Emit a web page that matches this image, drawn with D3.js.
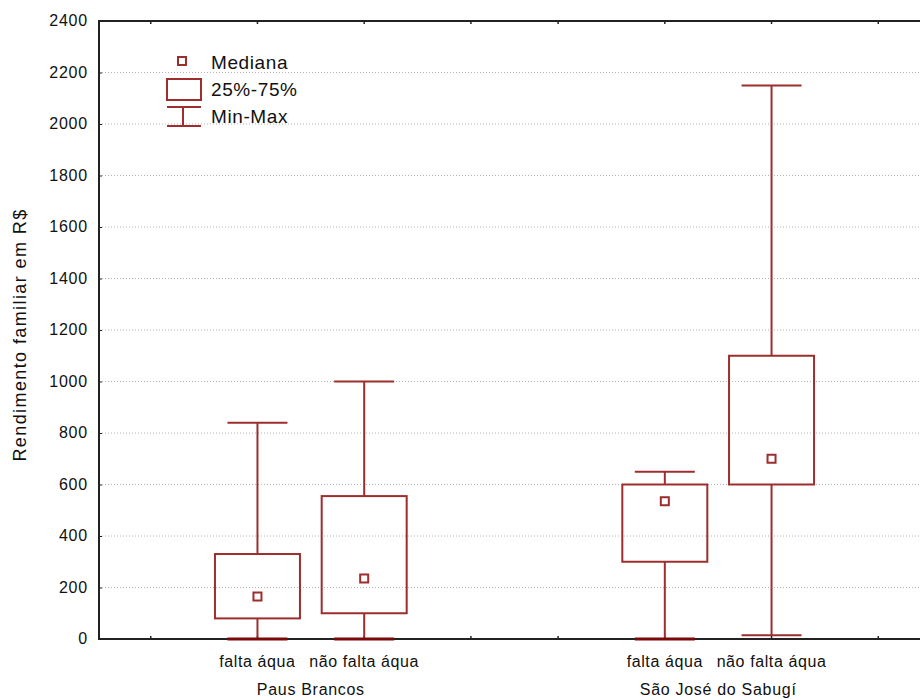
<!DOCTYPE html>
<html lang="pt">
  <head>
    <meta charset="utf-8">
    <title>Rendimento familiar</title>
    <script src="https://cdnjs.cloudflare.com/ajax/libs/d3/7.8.5/d3.min.js"></script>
    <style type="text/css">
      body {
        margin: 0;
        background: #fff;
      }
      svg text {
        font-family: 'Liberation Sans', Arial, sans-serif;
        fill: #111;
      }
      .grid line {
        stroke: #b4b4b4;
        stroke-width: 1;
        stroke-dasharray: 1,2;
      }
      .box {
        fill: none;
        stroke: #9e2d2d;
        stroke-width: 2;
      }
    </style>
  </head>
  <body>
    <svg id="chart"></svg>
    <script type="text/javascript">
// data
var groups = ["Paus Brancos", "São José do Sabugí"];
var categories = ["falta áqua", "não falta áqua"];
var minVals = [0, 0, 0, 15];
var q1Vals = [80, 100, 300, 600];
var medianVals = [165, 235, 535, 700];
var q3Vals = [330, 555, 600, 1100];
var maxVals = [840, 1000, 650, 2150];
var yTicks = [0, 200, 400, 600, 800, 1000, 1200, 1400, 1600, 1800, 2000, 2200, 2400];

var w = 920;
var h = 699;
var padLeft = 99, padTop = 21, padBottom = 639, padRight = 930;
var boxW = 85, capW = 60, medW = 8;
var color = "#9e2d2d";

var rows = [];
groups.forEach(function(g, gi) {
  categories.forEach(function(c, ci) {
    var i = gi * categories.length + ci;
    rows.push({ group: g, cat: c, min: minVals[i], q1: q1Vals[i], med: medianVals[i], q3: q3Vals[i], max: maxVals[i] });
  });
});

var svg = d3.select("#chart").attr("width", w).attr("height", h);

var yScale = d3.scaleLinear().domain([0, 2400]).range([padBottom, padTop]);
var groupScale = d3.scalePoint().domain(groups).range([padLeft, padRight]).padding(0.52);
var step = groupScale.step() * 0.262;
var catScale = d3.scalePoint().domain(categories).range([-step / 2, step / 2]);
var xPos = function(d) { return groupScale(d.group) + catScale(d.cat); };

// gridlines
svg.append("g").attr("class", "grid")
  .selectAll("line").data(yTicks.slice(1, -1))
  .enter().append("line")
  .attr("x1", padLeft).attr("x2", w)
  .attr("y1", function(d) { return yScale(d); })
  .attr("y2", function(d) { return yScale(d); });

// y axis ticks (small, inward)
var yAxis = d3.axisRight(yScale).tickValues(yTicks).tickSize(3).tickFormat("");
svg.append("g").attr("transform", "translate(" + padLeft + ",0)").call(yAxis)
  .call(function(g) { g.select(".domain").remove(); })
  .selectAll("line").attr("stroke", "#222");

svg.selectAll(".ylab").data(yTicks).enter().append("text")
  .attr("class", "ylab")
  .attr("x", padLeft - 11)
  .attr("y", function(d) { return yScale(d) + 5; })
  .attr("text-anchor", "end")
  .style("font-size", "16px")
  .style("letter-spacing", "0.8px")
  .text(function(d) { return d; });

// x ticks at top and bottom
var xTicks = [];
groups.forEach(function(g) {
  [-1.5, -0.5, 0.5, 1.5].forEach(function(k) { xTicks.push(groupScale(g) + k * step); });
});
svg.selectAll(".xtb").data(xTicks).enter().append("line")
  .attr("x1", function(d) { return d; }).attr("x2", function(d) { return d; })
  .attr("y1", padBottom).attr("y2", padBottom - 3)
  .attr("stroke", "#222").attr("stroke-width", 1.5);
svg.selectAll(".xtt").data(xTicks).enter().append("line")
  .attr("x1", function(d) { return d; }).attr("x2", function(d) { return d; })
  .attr("y1", padTop).attr("y2", padTop + 3)
  .attr("stroke", "#222").attr("stroke-width", 1.5);

// frame
svg.append("path")
  .attr("d", "M" + w + "," + padTop + "H" + padLeft + "V" + padBottom + "H" + w)
  .attr("fill", "none").attr("stroke", "#222").attr("stroke-width", 2);

// boxes
var boxes = svg.selectAll(".bx").data(rows).enter().append("g");
boxes.append("line").attr("class", "box")
  .attr("x1", xPos).attr("x2", xPos)
  .attr("y1", function(d) { return yScale(d.max); })
  .attr("y2", function(d) { return yScale(d.q3); });
boxes.append("line").attr("class", "box")
  .attr("x1", xPos).attr("x2", xPos)
  .attr("y1", function(d) { return yScale(d.q1); })
  .attr("y2", function(d) { return yScale(d.min); });
boxes.append("line").attr("class", "box")
  .attr("x1", function(d) { return xPos(d) - capW / 2; })
  .attr("x2", function(d) { return xPos(d) + capW / 2; })
  .attr("y1", function(d) { return yScale(d.max); })
  .attr("y2", function(d) { return yScale(d.max); });
boxes.append("line").attr("class", "box")
  .attr("x1", function(d) { return xPos(d) - capW / 2; })
  .attr("x2", function(d) { return xPos(d) + capW / 2; })
  .attr("y1", function(d) { return yScale(d.min); })
  .attr("y2", function(d) { return yScale(d.min); })
  .style("stroke", function(d) { return d.min === 0 ? "#7a0a0a" : color; })
  .style("stroke-width", function(d) { return d.min === 0 ? 3 : 2; });
boxes.append("rect").attr("class", "box")
  .attr("x", function(d) { return xPos(d) - boxW / 2; })
  .attr("y", function(d) { return yScale(d.q3); })
  .attr("width", boxW)
  .attr("height", function(d) { return yScale(d.q1) - yScale(d.q3); });
boxes.append("rect").attr("class", "box")
  .attr("x", function(d) { return xPos(d) - medW / 2; })
  .attr("y", function(d) { return yScale(d.med) - medW / 2; })
  .attr("width", medW).attr("height", medW);

// category labels
svg.selectAll(".catlab").data(rows).enter().append("text")
  .attr("x", xPos)
  .attr("y", 667)
  .attr("text-anchor", "middle")
  .style("font-size", "16px")
  .style("letter-spacing", "0.6px")
  .text(function(d) { return d.cat; });

svg.selectAll(".grplab").data(groups).enter().append("text")
  .attr("x", function(d) { return groupScale(d); })
  .attr("y", 695)
  .attr("text-anchor", "middle")
  .style("font-size", "16px")
  .style("letter-spacing", "0.7px")
  .text(function(d) { return d; });

// y axis title
svg.append("text")
  .attr("transform", "translate(26," + ((padTop + padBottom) / 2 + 5) + ") rotate(-90)")
  .attr("text-anchor", "middle")
  .style("font-size", "18px")
  .style("letter-spacing", "1.4px")
  .text("Rendimento familiar em R$");

// legend
var lg = svg.append("g");
lg.append("rect").attr("class", "box").attr("x", 178).attr("y", 57).attr("width", medW).attr("height", medW);
lg.append("rect").attr("class", "box").attr("x", 167).attr("y", 79).attr("width", 34).attr("height", 21);
lg.append("line").attr("class", "box").attr("x1", 167).attr("x2", 201).attr("y1", 107).attr("y2", 107);
lg.append("line").attr("class", "box").attr("x1", 183).attr("x2", 183).attr("y1", 107).attr("y2", 126);
lg.append("line").attr("class", "box").attr("x1", 167).attr("x2", 201).attr("y1", 126).attr("y2", 126);
["Mediana", "25%-75%", "Min-Max"].forEach(function(t, i) {
  lg.append("text")
    .attr("x", 211).attr("y", 69 + i * 27)
    .style("font-size", "19px")
    .style("letter-spacing", "0.6px")
    .text(t);
});
    </script>
  </body>
</html>
